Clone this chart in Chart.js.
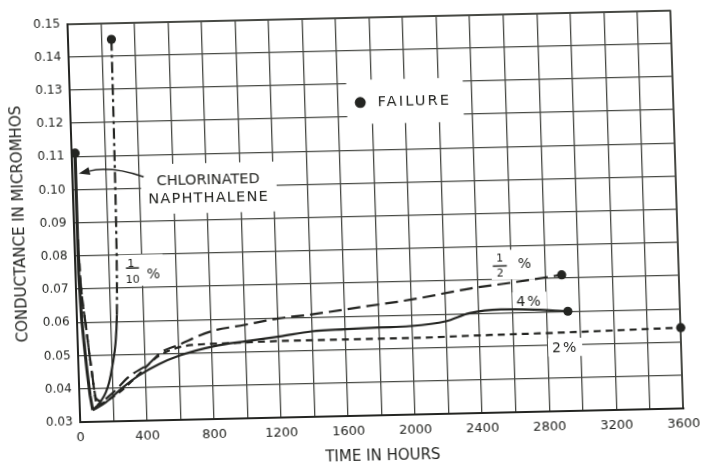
<!DOCTYPE html>
<html>
<head>
<meta charset="utf-8">
<title>Conductance vs time</title>
<script src="https://cdn.jsdelivr.net/npm/chart.js@4.4.1/dist/chart.umd.min.js"></script>
<style>
  html, body { margin: 0; padding: 0; background: #fff; }
  #wrap { width: 702px; height: 463px; overflow: hidden; }
  /* the printed sheet sits a little crooked on the scan */
  #c { display: block; transform-origin: 0 0; transform: matrix(1, -0.0227, 0.032, 1, -7.06, 8.01); }
</style>
</head>
<body>
<div id="wrap"><canvas id="c" width="702" height="463"></canvas></div>
<script>
var xTicks = [0, 200, 400, 600, 800, 1000, 1200, 1400, 1600, 1800, 2000, 2200, 2400, 2600, 2800, 3000, 3200, 3400, 3600];
var yTicks = [0.03, 0.04, 0.05, 0.06, 0.07, 0.08, 0.09, 0.10, 0.11, 0.12, 0.13, 0.14, 0.15];

// chlorinated naphthalene (heavy line, failure at the top)
var cnHours = [22, 20, 20, 29, 40, 52, 65, 78];
var cnCond  = [0.111, 0.09, 0.075, 0.061, 0.053, 0.045, 0.038, 0.0335];

// 1/10 %
var tenthHours = [78, 100, 130, 160, 181, 205, 227, 240, 248, 253, 257, 260];
var tenthCond  = [0.0335, 0.0345, 0.0362, 0.0388, 0.0417, 0.047, 0.0536, 0.062, 0.075, 0.09, 0.115, 0.145];

// 1/2 %
var halfHours = [22, 28, 55, 80, 100, 130, 200, 300, 420, 500, 600, 800, 1000, 1200, 1400, 1700, 2000, 2350, 2600, 2900];
var halfCond  = [0.085, 0.0744, 0.058, 0.0448, 0.037, 0.0362, 0.0385, 0.0433, 0.047, 0.0505, 0.0525, 0.0564, 0.0581, 0.0598, 0.0608, 0.0627, 0.0646, 0.0675, 0.069, 0.071];

// 4 %
var fourHours = [78, 100, 157, 260, 360, 480, 600, 814, 1007, 1207, 1400, 1600, 1800, 1985, 2200, 2343, 2530, 2700, 2930];
var fourCond  = [0.0335, 0.034, 0.0357, 0.040, 0.0436, 0.0468, 0.0492, 0.0519, 0.0532, 0.0544, 0.0557, 0.0561, 0.0564, 0.0566, 0.0578, 0.0601, 0.061, 0.0608, 0.060];

// 2 %
var twoHours = [22, 28, 55, 80, 105, 150, 250, 350, 480, 680, 900, 1200, 1600, 2000, 2350, 2860, 3600];
var twoCond  = [0.085, 0.0744, 0.058, 0.0448, 0.035, 0.0358, 0.039, 0.0435, 0.0493, 0.0524, 0.0527, 0.053, 0.053, 0.053, 0.0533, 0.0536, 0.0543];

var ink = '#242522';
var gridInk = '#474944';
var face = "'DejaVu Sans', sans-serif";

function pts(xs, ys) {
  return xs.map(function (x, i) { return { x: x, y: ys[i] }; });
}
// failure dot only at one index
function dotAt(idx) {
  return function (ctx) { return ctx.dataIndex === idx ? 4.6 : 0; };
}

var dashDot = [11, 4, 3, 4];

// text written on the sheet; x in hours, y in micromhos
var noteGroups = [
  { pad: [11, 8, 11, 7], items: [
      { t: 'CHLORINATED', x: 810, y: 0.1022, size: 14.5, sp: 0 },
      { t: 'NAPHTHALENE', x: 810, y: 0.0970, size: 14.5, sp: 1.2 } ] },
  { pad: [16, 12, 16, 8], dot: { x: 1732, y: 0.1243, r: 5.5 }, items: [
      { t: 'FAILURE', x: 1835, y: 0.1247, size: 14.5, sp: 2.2, align: 'left' } ] },
  { pad: [4, 3, 3, 6], bar: { x: 342, y: 0.0760, w: 13 }, items: [
      { t: '1', x: 334, y: 0.0776, size: 11 },
      { t: '10', x: 341, y: 0.0727, size: 11 },
      { t: '%', x: 466, y: 0.0743, size: 14 } ] },
  { pad: [4, 4, 3, 5], bar: { x: 2533, y: 0.0741, w: 14 }, items: [
      { t: '1', x: 2533, y: 0.0765, size: 11 },
      { t: '2', x: 2533, y: 0.0721, size: 11 },
      { t: '%', x: 2680, y: 0.0750, size: 14 } ] },
  { pad: [4, 4, 4, 4], items: [ { t: '4%', x: 2703, y: 0.0633, size: 14, sp: 2 } ] },
  { pad: [4, 4, 4, 4], items: [ { t: '2%', x: 2907, y: 0.0492, size: 14, sp: 2 } ] }
];

var arrow = { from: [426, 0.1034], ctrl: [236, 0.1070], to: [40, 0.1048] };

function setFont(ctx, it) {
  ctx.font = it.size + 'px ' + face;
  ctx.letterSpacing = (it.sp || 0) + 'px';
}

function itemBox(ctx, chart, it) {
  setFont(ctx, it);
  var w = ctx.measureText(it.t).width;
  var cx = chart.scales.x.getPixelForValue(it.x);
  var cy = chart.scales.y.getPixelForValue(it.y);
  var left = it.align === 'left' ? cx : cx - w / 2;
  var h = it.size * 0.73;
  return { l: left, r: left + w, t: cy - h / 2, b: cy + h / 2, cx: cx, cy: cy };
}

var notesPlugin = {
  id: 'notes',
  beforeDatasetsDraw: function (chart) {
    var ctx = chart.ctx, xs = chart.scales.x, ys = chart.scales.y;
    ctx.save();
    ctx.fillStyle = '#fff';
    noteGroups.forEach(function (g) {
      var l = Infinity, r = -Infinity, t = Infinity, b = -Infinity;
      g.items.forEach(function (it) {
        var bx = itemBox(ctx, chart, it);
        l = Math.min(l, bx.l); r = Math.max(r, bx.r);
        t = Math.min(t, bx.t); b = Math.max(b, bx.b);
      });
      if (g.dot) {
        var dx = xs.getPixelForValue(g.dot.x), dy = ys.getPixelForValue(g.dot.y);
        l = Math.min(l, dx - g.dot.r); t = Math.min(t, dy - g.dot.r); b = Math.max(b, dy + g.dot.r);
      }
      ctx.fillRect(l - g.pad[3], t - g.pad[0], (r - l) + g.pad[1] + g.pad[3], (b - t) + g.pad[0] + g.pad[2]);
    });
    ctx.restore();
  },
  afterDatasetsDraw: function (chart) {
    var ctx = chart.ctx, xs = chart.scales.x, ys = chart.scales.y;
    ctx.save();
    ctx.fillStyle = ink;
    ctx.strokeStyle = ink;
    ctx.textBaseline = 'alphabetic';
    ctx.textAlign = 'left';
    noteGroups.forEach(function (g) {
      g.items.forEach(function (it) {
        var bx = itemBox(ctx, chart, it);
        setFont(ctx, it);
        ctx.fillText(it.t, bx.l, bx.cy + it.size * 0.365);
      });
      if (g.bar) {
        var bx0 = xs.getPixelForValue(g.bar.x), by = ys.getPixelForValue(g.bar.y);
        ctx.lineWidth = 1.5;
        ctx.beginPath();
        ctx.moveTo(bx0 - g.bar.w / 2, by);
        ctx.lineTo(bx0 + g.bar.w / 2, by);
        ctx.stroke();
      }
      if (g.dot) {
        ctx.beginPath();
        ctx.arc(xs.getPixelForValue(g.dot.x), ys.getPixelForValue(g.dot.y), g.dot.r, 0, Math.PI * 2);
        ctx.fill();
      }
    });
    ctx.letterSpacing = '0px';

    // arrow to the heavy curve
    var p0 = [xs.getPixelForValue(arrow.from[0]), ys.getPixelForValue(arrow.from[1])];
    var pc = [xs.getPixelForValue(arrow.ctrl[0]), ys.getPixelForValue(arrow.ctrl[1])];
    var p1 = [xs.getPixelForValue(arrow.to[0]), ys.getPixelForValue(arrow.to[1])];
    var ang = Math.atan2(p1[1] - pc[1], p1[0] - pc[0]);
    var len = 11, half = 4;
    var base = [p1[0] - len * Math.cos(ang), p1[1] - len * Math.sin(ang)];
    ctx.lineWidth = 1.5;
    ctx.beginPath();
    ctx.moveTo(p0[0], p0[1]);
    ctx.quadraticCurveTo(pc[0], pc[1], base[0], base[1]);
    ctx.stroke();
    ctx.beginPath();
    ctx.moveTo(p1[0], p1[1]);
    ctx.lineTo(base[0] + half * Math.sin(ang), base[1] - half * Math.cos(ang));
    ctx.lineTo(base[0] - half * Math.sin(ang), base[1] + half * Math.cos(ang));
    ctx.closePath();
    ctx.fill();
    ctx.restore();
  }
};

Chart.defaults.font.family = face;
Chart.defaults.color = ink;

var chart = new Chart(document.getElementById('c'), {
  type: 'line',
  data: {
    datasets: [
      {
        label: 'Chlorinated naphthalene',
        data: pts(cnHours, cnCond),
        borderColor: ink, backgroundColor: ink,
        borderWidth: 3, tension: 0,
        pointRadius: dotAt(0), pointBorderWidth: 0,
        clip: false
      },
      {
        label: '1/10 %',
        data: pts(tenthHours, tenthCond),
        borderColor: ink, backgroundColor: ink,
        borderWidth: 2.2, cubicInterpolationMode: 'monotone',
        borderDash: dashDot,
        segment: { borderDash: function (ctx) { return ctx.p0.parsed.y < 0.055 ? [] : dashDot; } },
        pointRadius: dotAt(tenthHours.length - 1), pointBorderWidth: 0,
        clip: false
      },
      {
        label: '1/2 %',
        data: pts(halfHours, halfCond),
        borderColor: ink, backgroundColor: ink,
        borderWidth: 2.2, cubicInterpolationMode: 'monotone',
        borderDash: [13, 6],
        pointRadius: dotAt(halfHours.length - 1), pointBorderWidth: 0,
        clip: false
      },
      {
        label: '4 %',
        data: pts(fourHours, fourCond),
        borderColor: ink, backgroundColor: ink,
        borderWidth: 2.2, cubicInterpolationMode: 'monotone',
        pointRadius: dotAt(fourHours.length - 1), pointBorderWidth: 0,
        clip: false
      },
      {
        label: '2 %',
        data: pts(twoHours, twoCond),
        borderColor: ink, backgroundColor: ink,
        borderWidth: 2.2, cubicInterpolationMode: 'monotone',
        borderDash: [7, 5],
        pointRadius: dotAt(twoHours.length - 1), pointBorderWidth: 0,
        clip: false
      }
    ]
  },
  options: {
    responsive: false,
    animation: false,
    devicePixelRatio: 1,
    events: [],
    layout: { padding: { left: 11, right: 18.5, top: 17.5, bottom: 0 } },
    plugins: {
      legend: { display: false },
      tooltip: { enabled: false }
    },
    scales: {
      x: {
        type: 'linear', min: 0, max: 3600,
        afterBuildTicks: function (s) { s.ticks = xTicks.map(function (v) { return { value: v }; }); },
        ticks: {
          autoSkip: false, maxRotation: 0, padding: 8.2,
          font: { size: 13 }, color: ink,
          callback: function (v) { return v % 400 === 0 ? String(v) : ''; }
        },
        grid: {
          color: gridInk, drawTicks: false,
          lineWidth: function (ctx) { return ctx.tick && ctx.tick.value === 3600 ? 2 : 1.3; }
        },
        border: { color: ink, width: 2 },
        title: { display: true, text: 'TIME IN HOURS', color: ink, font: { size: 15 }, padding: { top: 0.2, bottom: -3 } }
      },
      y: {
        type: 'linear', min: 0.03, max: 0.15,
        afterBuildTicks: function (s) { s.ticks = yTicks.map(function (v) { return { value: v }; }); },
        ticks: {
          padding: 7.3, font: { size: 12 }, color: ink,
          callback: function (v) { return v.toFixed(2); }
        },
        grid: {
          color: gridInk, drawTicks: false,
          lineWidth: function (ctx) { return ctx.tick && Math.abs(ctx.tick.value - 0.15) < 1e-9 ? 2 : 1.3; }
        },
        border: { color: ink, width: 2 },
        title: { display: true, text: 'CONDUCTANCE IN MICROMHOS', color: ink, font: { size: 15 }, padding: { top: 0, bottom: 3.5 } }
      }
    }
  },
  plugins: [notesPlugin]
});
</script>
</body>
</html>
